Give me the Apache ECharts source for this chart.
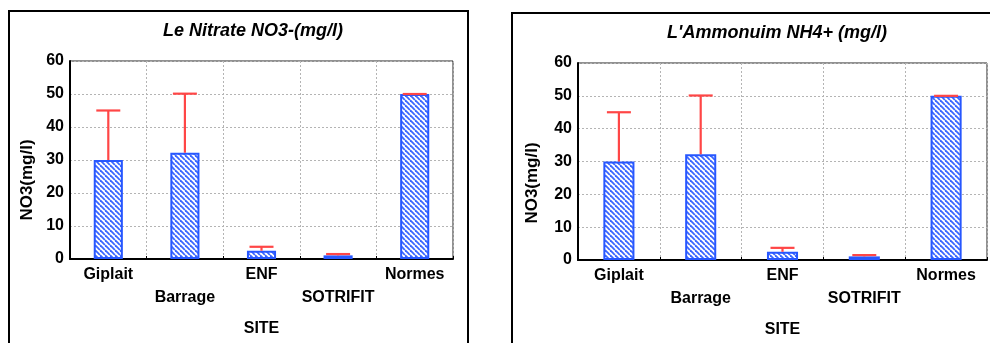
<!DOCTYPE html>
<html>
<head>
<meta charset="utf-8">
<script src="https://cdn.jsdelivr.net/npm/echarts@6/dist/echarts.min.js"></script>
<style>
html,body{margin:0;padding:0;background:#fff;}
#chart{width:990px;height:343px;}
</style>
</head>
<body>
<div id="chart"></div>
<script>
// sites along the x axis
const sites=['Giplait','Barrage','ENF','SOTRIFIT','Normes']
// left panel : nitrate, bar = mean, red line = upper error
const no3Mean=[30,32.2,2.5,1.1,50]
const no3High=[45,50.1,3.7,1.5,50]
// right panel : ammonium
const nh4Mean=[30,32.2,2.5,1.1,50]
const nh4High=[45,50.1,3.7,1.5,50]
const yMin=0,yMax=60,yStep=10

const FONT="'Liberation Sans', Arial, sans-serif"

// blue diagonal hatch used as bar fill
function hatch(){
    const s=5
    const c=document.createElement('canvas')
    c.width=s;c.height=s
    const ctx=c.getContext('2d')
    ctx.fillStyle='#fff'
    ctx.fillRect(0,0,s,s)
    ctx.strokeStyle='#3a66ff'
    ctx.lineWidth=1.8
    for(let k=-1;k<=1;k++){
        ctx.beginPath()
        ctx.moveTo(k*s,0)
        ctx.lineTo(k*s+s,s)
        ctx.stroke()
    }
    return c
}
const pattern={image:hatch(),repeat:'repeat'}

function xAxisOf(idx){
    return {
        type:'category',gridIndex:idx,data:sites,
        name:'SITE',nameLocation:'middle',nameGap:62,
        nameTextStyle:{fontFamily:FONT,fontWeight:'bold',fontSize:16,color:'#000'},
        axisLine:{lineStyle:{color:'#000',width:2}},
        axisTick:{show:true,inside:true,length:3,lineStyle:{color:'#000'}},
        axisLabel:{
            fontFamily:FONT,fontWeight:'bold',fontSize:16,color:'#000',
            lineHeight:23,margin:4,interval:0,
            formatter:(v,i)=>i%2?'\n'+v:v
        },
        splitLine:{show:true,lineStyle:{color:'#b4b4b4',type:[2,2],width:1}}
    }
}
function yAxisOf(idx){
    return {
        type:'value',gridIndex:idx,min:yMin,max:yMax,interval:yStep,
        axisLine:{show:true,lineStyle:{color:'#000',width:2}},
        axisTick:{show:false},
        axisLabel:{fontFamily:FONT,fontWeight:'bold',fontSize:16,color:'#000',margin:6},
        splitLine:{show:true,lineStyle:{color:'#b4b4b4',type:[2,2],width:1}}
    }
}
function barSeries(idx,mean){
    return {
        type:'bar',xAxisIndex:idx,yAxisIndex:idx,data:mean,barWidth:'38%',
        itemStyle:{color:pattern,borderColor:'#2757ff',borderWidth:2},
        emphasis:{disabled:true}
    }
}
function errorSeries(idx,mean,high){
    return {
        type:'custom',xAxisIndex:idx,yAxisIndex:idx,z:5,
        data:sites.map((s,i)=>[i,mean[i],high[i]]),
        renderItem(params,api){
            const x=api.value(0)
            const lo=api.coord([x,api.value(1)])
            const hi=api.coord([x,api.value(2)])
            const half=12
            const st={stroke:'#ff4646',lineWidth:2.2}
            return {type:'group',children:[
                {type:'line',shape:{x1:lo[0],y1:lo[1],x2:hi[0],y2:hi[1]},style:st},
                {type:'line',shape:{x1:hi[0]-half,y1:hi[1],x2:hi[0]+half,y2:hi[1]},style:st}
            ]}
        }
    }
}

const chart=echarts.init(document.getElementById('chart'),null,{renderer:'canvas'})
chart.setOption({
    animation:false,
    backgroundColor:'#fff',
    title:[
        {text:'Le Nitrate NO3-(mg/l)',left:253,top:22,padding:0,textAlign:'center',
            textStyle:{fontFamily:FONT,fontWeight:'bold',fontStyle:'italic',fontSize:18,color:'#000'}},
        {text:"L'Ammonuim NH4+ (mg/l)",left:777,top:24,padding:0,textAlign:'center',
            textStyle:{fontFamily:FONT,fontWeight:'bold',fontStyle:'italic',fontSize:18,color:'#000'}}
    ],
    grid:[
        {left:70,top:61,width:383,height:198,show:true,borderColor:'#222',borderWidth:1,backgroundColor:'transparent'},
        {left:578,top:63,width:409,height:199,show:true,borderColor:'#222',borderWidth:1,backgroundColor:'transparent'}
    ],
    xAxis:[xAxisOf(0),xAxisOf(1)],
    yAxis:[yAxisOf(0),yAxisOf(1)],
    series:[
        barSeries(0,no3Mean),errorSeries(0,no3Mean,no3High),
        barSeries(1,nh4Mean),errorSeries(1,nh4Mean,nh4High)
    ],
    graphic:[
        {type:'rect',shape:{x:9,y:11,width:459,height:345},style:{fill:null,stroke:'#000',lineWidth:2},silent:true},
        {type:'rect',shape:{x:512,y:13,width:490,height:345},style:{fill:null,stroke:'#000',lineWidth:2},silent:true},
        {type:'text',x:27,y:180,rotation:Math.PI/2,
            style:{text:'NO3(mg/l)',fontFamily:FONT,fontWeight:'bold',fontSize:17,fill:'#000',align:'center',verticalAlign:'middle'}},
        {type:'text',x:532,y:183,rotation:Math.PI/2,
            style:{text:'NO3(mg/l)',fontFamily:FONT,fontWeight:'bold',fontSize:17,fill:'#000',align:'center',verticalAlign:'middle'}}
    ]
})
</script>
</body>
</html>
